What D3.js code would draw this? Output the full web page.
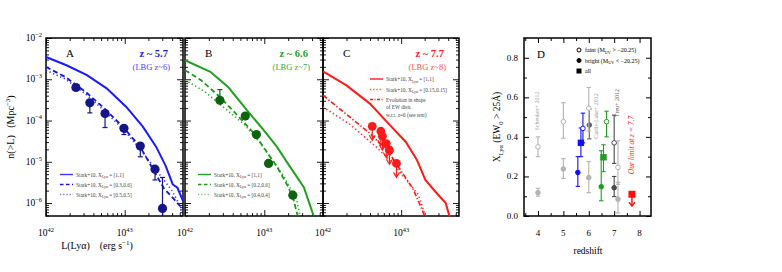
<!DOCTYPE html>
<html>
<head>
<meta charset="utf-8">
<script src="https://cdn.jsdelivr.net/npm/d3@7"></script>
<style>
body { margin: 0; background: #fff; }
text { font-family: "Liberation Serif", "DejaVu Serif", serif; white-space: pre; }
</style>
</head>
<body>
<script>
// Lya luminosity functions (panels A-C) and Lya fraction (panel D)
// curves are [log10 L, log10 n(>L)]

// panel A, z ~ 5.7
var aSolid = [[42.0,-2.46],[42.26,-2.66],[42.52,-2.90],[42.77,-3.22],[43.02,-3.67],[43.23,-4.15],[43.40,-4.64],[43.52,-5.1],[43.57,-5.35],[43.61,-5.55],[43.67,-5.63],[43.74,-5.95]];
var aDash = [[42.0,-2.70],[42.25,-2.95],[42.5,-3.3],[42.75,-3.72],[43.0,-4.2],[43.2,-4.65],[43.38,-5.25],[43.5,-5.65],[43.6,-5.85],[43.74,-6.15]];
var aDot = [[42.0,-2.78],[42.25,-3.0],[42.5,-3.35],[42.75,-3.78],[43.0,-4.25],[43.2,-4.7],[43.38,-5.15],[43.5,-5.45],[43.6,-5.7],[43.74,-6.2]];
var aLogL = [42.38, 42.557, 42.75, 42.99, 43.198, 43.385, 43.48];
var aLogN = [-3.2, -3.57, -3.83, -4.19, -4.62, -5.18, -6.13];
var aErrLo = [null, -3.815, -4.17, -4.34, -4.88, -5.44, -6.5];
var aErrHi = [null, null, null, null, null, null, -5.38];

// panel B, z ~ 6.6
var bSolid = [[42.0,-2.54],[42.32,-2.82],[42.55,-3.2],[42.78,-3.75],[43.0,-4.25],[43.16,-4.64],[43.3,-5.05],[43.5,-5.62],[43.62,-6.3]];
var bDash = [[42.0,-2.78],[42.2,-3.02],[42.44,-3.43],[42.65,-3.85],[42.87,-4.31],[43.16,-5.12],[43.3,-5.6],[43.37,-5.93],[43.42,-6.3]];
var bDot = [[42.0,-3.02],[42.25,-3.3],[42.53,-3.75],[42.75,-4.1],[42.95,-4.55],[43.25,-5.36],[43.41,-5.93],[43.45,-6.3]];
var bLogL = [42.44, 42.76, 42.90, 43.054, 43.36];
var bLogN = [-3.51, -3.89, -4.34, -5.04, -5.81];
var bErrHi = [-3.25, null, null, null, null];

// panel C, z ~ 7.7
var cSolid = [[42.0,-2.81],[42.3,-3.15],[42.6,-3.59],[42.85,-4.1],[43.06,-4.52],[43.2,-4.95],[43.31,-5.44],[43.45,-5.75],[43.57,-6.0],[43.62,-6.33]];
var cDot = [[42.0,-3.67],[42.35,-4.1],[42.68,-4.64],[42.9,-5.05],[43.1,-5.52],[43.22,-5.8],[43.30,-6.25],[43.32,-6.33]];
var cDashDot = [[42.0,-3.39],[42.3,-3.85],[42.6,-4.31],[42.85,-4.8],[43.02,-5.28],[43.15,-5.65],[43.27,-6.17],[43.3,-6.33]];
var cLogL = [42.63, 42.74, 42.76, 42.81, 42.85, 42.94];
var cLogN = [-4.14, -4.26, -4.38, -4.56, -4.72, -5.04];

// panel D: [z, X, lo, hi]
var schenkerOpen = [[4.0,0.35,0.30,0.40],[5.0,0.477,0.393,0.573]];
var schenkerFilled = [[4.0,0.118,0.10,0.14],[5.0,0.238,0.19,0.29]];
var curtisOpen = [[6.0,0.545,0.43,0.65]];
var curtisFilled = [[6.0,0.194,0.118,0.275]];
var curtisDark = [[6.02,0.46,0.39,0.54]];
var blueFilled = [[5.57,0.22,0.15,0.30]];
var blueAll = [[5.69,0.37,0.30,0.445]];
var blueOpen = [[5.77,0.443,0.37,0.52]];
var greenFilled = [[6.49,0.148,0.077,0.33]];
var greenAll = [[6.58,0.297,0.224,0.36]];
var greenOpen = [[6.7,0.477,0.40,0.53]];
var treuOpen = [[7.0,0.37,0.266,0.51]];
var treuFilled = [[7.0,0.143,0.098,0.20]];
var lightOpen = [[7.15,0.246,0.16,0.38]];
var lightFilled = [[7.15,0.085,0.015,0.17]];
var ourLimit = [[7.7,0.11,0.05]];

var svg = d3.select("body").append("svg").attr("width", 782).attr("height", 272);

var yTop = 38, yBot = 216;
var yLum = d3.scaleLog().domain([4.85e-7, 1e-2]).range([yBot, yTop]);

function sup(sel, base, exp, size) {
  sel.append("tspan").text(base);
  sel.append("tspan").attr("dy", -size * 0.45).attr("font-size", size * 0.68).text(exp);
}

function lumPanel(x0, x1, showY) {
  var x = d3.scaleLog().domain([1e42, 5.5e43]).range([x0, x1]);
  var g = svg.append("g");
  var majX = [1e42, 1e43], minX = x.ticks().filter(function(d){ return majX.indexOf(d) < 0; });
  var majY = [1e-6, 1e-5, 1e-4, 1e-3, 1e-2];
  var minY = yLum.ticks().filter(function(d){ return majY.indexOf(d) < 0; });
  function ax(fn, scale, vals, len, pos) {
    var a = g.append("g").attr("transform", pos)
      .call(fn(scale).tickValues(vals).tickSize(len).tickFormat(""));
    a.select(".domain").remove();
    a.selectAll("line").attr("stroke", "#000").attr("stroke-width", 0.9);
  }
  ax(d3.axisBottom, x, majX, -6, "translate(0," + yBot + ")");
  ax(d3.axisBottom, x, minX, -3, "translate(0," + yBot + ")");
  ax(d3.axisTop, x, majX, -6, "translate(0," + yTop + ")");
  ax(d3.axisTop, x, minX, -3, "translate(0," + yTop + ")");
  ax(d3.axisLeft, yLum, majY, -6, "translate(" + x0 + ",0)");
  ax(d3.axisLeft, yLum, minY, -3, "translate(" + x0 + ",0)");
  ax(d3.axisRight, yLum, majY, -6, "translate(" + x1 + ",0)");
  ax(d3.axisRight, yLum, minY, -3, "translate(" + x1 + ",0)");
  g.append("rect").attr("x", x0).attr("y", yTop).attr("width", x1 - x0).attr("height", yBot - yTop)
    .attr("fill", "none").attr("stroke", "#000").attr("stroke-width", 1.5);
  majX.forEach(function(d) {
    var t = g.append("text").attr("x", x(d)).attr("y", 236).attr("text-anchor", "middle")
      .attr("font-size", 9.5);
    sup(t, "10", Math.round(Math.log10(d)), 9.5);
  });
  if (showY) {
    majY.forEach(function(d) {
      var t = g.append("text").attr("x", x0 - 4).attr("y", yLum(d) + 3).attr("text-anchor", "end")
        .attr("font-size", 9.5);
      sup(t, "10", "\u2212" + Math.round(-Math.log10(d)), 9.5);
    });
  }
  return x;
}

function curve(x, pts, color, dash, w) {
  var line = d3.line().x(function(d){ return x(Math.pow(10, d[0])); })
    .y(function(d){ return yLum(Math.pow(10, d[1])); });
  svg.append("path").datum(pts).attr("d", line).attr("fill", "none")
    .attr("stroke", color).attr("stroke-width", w || 1.8)
    .attr("stroke-dasharray", dash);
}

function points(x, logL, logN, lo, hi, color) {
  logL.forEach(function(l, i) {
    var cx = x(Math.pow(10, l)), cy = yLum(Math.pow(10, logN[i]));
    [lo && lo[i], hi && hi[i]].forEach(function(e) {
      if (e == null) return;
      var ey = Math.min(yBot, yLum(Math.pow(10, e)));
      svg.append("line").attr("x1", cx).attr("x2", cx).attr("y1", cy).attr("y2", ey)
        .attr("stroke", color).attr("stroke-width", 1.2);
      if (ey < yBot) svg.append("line").attr("x1", cx - 2.5).attr("x2", cx + 2.5).attr("y1", ey).attr("y2", ey)
        .attr("stroke", color).attr("stroke-width", 1.2);
    });
    svg.append("circle").attr("cx", cx).attr("cy", cy).attr("r", 4.6).attr("fill", color);
  });
}

function legendRow(x, y, color, dash, label, w) {
  svg.append("line").attr("x1", x).attr("x2", x + 13).attr("y1", y).attr("y2", y)
    .attr("stroke", color).attr("stroke-width", w || 1.4).attr("stroke-dasharray", dash);
  var t = svg.append("text").attr("x", x + 16).attr("y", y + 2).attr("font-size", 5.3).attr("fill", "#444");
  t.append("tspan").text("Stark+10, X");
  t.append("tspan").attr("dy", 1.5).attr("font-size", 3.8).text("Ly\u03b1");
  t.append("tspan").attr("dy", -1.5).text(" = " + label);
}

function title(x0, x1, letter, z, lbg, c1, c2) {
  svg.append("text").attr("x", x0 + 20).attr("y", 57).attr("font-size", 11).text(letter);
  svg.append("text").attr("x", x1 - 15).attr("y", 57).attr("text-anchor", "end").attr("font-size", 10.5)
    .attr("font-weight", "bold").attr("fill", c1).text(z);
  svg.append("text").attr("x", x1 - 13).attr("y", 70).attr("text-anchor", "end").attr("font-size", 8.5)
    .attr("fill", c2).text(lbg);
}

var dashS = "5,3", dotS = "1.3,2.6", dashDotS = "5,2,1.3,2";

// panel A
var xA = lumPanel(46, 183, true);
curve(xA, aDot, "#3a3aff", dotS, 1.6);
curve(xA, aDash, "#1515e0", dashS, 1.8);
curve(xA, aSolid, "#1a1aff", null, 2);
points(xA, aLogL, aLogN, aErrLo, aErrHi, "#15158a");
title(46, 183, "A", "z ~ 5.7", "(LBG z~6)", "#1a1ae6", "#4747f0");
legendRow(60, 174.5, "#3a3aff", null, "[1,1]");
legendRow(60, 184.5, "#1515e0", "3.5,2.5", "[0.3,0.6]");
legendRow(60, 194.5, "#6a6aff", "1.2,2", "[0.5,0.5]");

// panel B
var xB = lumPanel(185, 323, false);
curve(xB, bDot, "#30b030", dotS, 1.6);
curve(xB, bDash, "#1a9a1a", dashS, 1.8);
curve(xB, bSolid, "#22a022", null, 2);
points(xB, bLogL, bLogN, null, bErrHi, "#0e640e");
title(185, 323, "B", "z ~ 6.6", "(LBG z~7)", "#22a022", "#3aa83a");
legendRow(198, 174.5, "#22a022", null, "[1,1]");
legendRow(198, 184.5, "#1a9a1a", "3.5,2.5", "[0.2,0.6]");
legendRow(198, 194.5, "#70c870", "1.2,2", "[0.4,0.4]");

// panel C
var xC = lumPanel(323, 459, false);
curve(xC, cDot, "#ff2a2a", dotS, 1.6);
curve(xC, cDashDot, "#ff1a1a", dashDotS, 1.6);
curve(xC, cSolid, "#ff1a1a", null, 2);
cLogL.forEach(function(l, i) {
  var cx = xC(Math.pow(10, l)), cy = yLum(Math.pow(10, cLogN[i]));
  svg.append("line").attr("x1", cx).attr("x2", cx).attr("y1", cy).attr("y2", cy + 13)
    .attr("stroke", "#ff1a1a").attr("stroke-width", 1.2);
  svg.append("path").attr("d", "M" + (cx - 3) + "," + (cy + 9) + "L" + cx + "," + (cy + 14) + "L" + (cx + 3) + "," + (cy + 9))
    .attr("fill", "none").attr("stroke", "#ff1a1a").attr("stroke-width", 1.2);
  svg.append("circle").attr("cx", cx).attr("cy", cy).attr("r", 4.4).attr("fill", "#ff1a1a");
});
title(323, 459, "C", "z ~ 7.7", "(LBG z~8)", "#ff1a1a", "#ff5050");
legendRow(370, 79, "#ff1a1a", null, "[1,1]");
legendRow(370, 89.5, "#ff4a4a", "1.2,2", "[0.15,0.15]");
svg.append("line").attr("x1", 370).attr("x2", 383).attr("y1", 99.5).attr("y2", 99.5)
  .attr("stroke", "#ff1a1a").attr("stroke-width", 1.4).attr("stroke-dasharray", "3,1.5,1,1.5");
["Evolution in shape", "of EW distr.", "w.r.t. z=6 (see text)"].forEach(function(s, i) {
  svg.append("text").attr("x", 386).attr("y", 101.5 + i * 7.7).attr("font-size", 5.3).attr("fill", "#444").text(s);
});

// axis titles for luminosity panels
var yl = svg.append("text").attr("transform", "translate(14,127) rotate(-90)").attr("text-anchor", "middle")
  .attr("font-size", 10);
yl.append("tspan").text("n(>L)   (Mpc");
yl.append("tspan").attr("dy", -4).attr("font-size", 7).text("\u22123");
yl.append("tspan").attr("dy", 4).text(")");
var xl = svg.append("text").attr("x", 97).attr("y", 249).attr("text-anchor", "middle").attr("font-size", 10);
xl.append("tspan").text("L(Ly\u03b1)    (erg s");
xl.append("tspan").attr("dy", -4).attr("font-size", 7).text("\u22121");
xl.append("tspan").attr("dy", 4).text(")");

// panel D
var xD = d3.scaleLinear().domain([3.45, 8.45]).range([524, 651]);
var yD = d3.scaleLinear().domain([0, 0.9]).range([yBot, yTop]);
var gD = svg.append("g");
function axD(fn, scale, vals, len, pos) {
  var a = gD.append("g").attr("transform", pos).call(fn(scale).tickValues(vals).tickSize(len).tickFormat(""));
  a.select(".domain").remove();
  a.selectAll("line").attr("stroke", "#000").attr("stroke-width", 1);
}
var dMajX = [4, 5, 6, 7, 8], dMinX = [3.5, 4.5, 5.5, 6.5, 7.5];
var dMajY = [0, 0.2, 0.4, 0.6, 0.8], dMinY = [0.1, 0.3, 0.5, 0.7];
axD(d3.axisBottom, xD, dMajX, -5, "translate(0," + yBot + ")");
axD(d3.axisBottom, xD, dMinX, -3, "translate(0," + yBot + ")");
axD(d3.axisTop, xD, dMajX, -5, "translate(0," + yTop + ")");
axD(d3.axisTop, xD, dMinX, -3, "translate(0," + yTop + ")");
axD(d3.axisLeft, yD, dMajY, -5, "translate(524,0)");
axD(d3.axisLeft, yD, dMinY, -3, "translate(524,0)");
axD(d3.axisRight, yD, dMajY, -5, "translate(651,0)");
axD(d3.axisRight, yD, dMinY, -3, "translate(651,0)");
gD.append("rect").attr("x", 524).attr("y", yTop).attr("width", 127).attr("height", yBot - yTop)
  .attr("fill", "none").attr("stroke", "#000").attr("stroke-width", 1.5);
dMajX.forEach(function(d) {
  gD.append("text").attr("x", xD(d)).attr("y", 236).attr("text-anchor", "middle").attr("font-size", 9).text(d);
});
dMajY.forEach(function(d) {
  gD.append("text").attr("x", 518).attr("y", yD(d) + 3).attr("text-anchor", "end").attr("font-size", 9).text(d.toFixed(1));
});
svg.append("text").attr("x", 588).attr("y", 254).attr("text-anchor", "middle").attr("font-size", 9.5).text("redshift");
var dl = svg.append("text").attr("transform", "translate(500,127) rotate(-90)").attr("text-anchor", "middle").attr("font-size", 9.5);
dl.append("tspan").text("X");
dl.append("tspan").attr("dy", 2.5).attr("font-size", 6.5).text("Ly\u03b1");
dl.append("tspan").attr("dy", -2.5).text(" (EW");
dl.append("tspan").attr("dy", 2.5).attr("font-size", 6.5).text("0");
dl.append("tspan").attr("dy", -2.5).text(" > 25\u00c5)");
svg.append("text").attr("x", 537).attr("y", 58).attr("font-size", 11).text("D");

function fracPts(arr, color, shape) {
  arr.forEach(function(d) {
    var cx = xD(d[0]), cy = yD(d[1]);
    [d[2], d[3]].forEach(function(e) {
      svg.append("line").attr("x1", cx).attr("x2", cx).attr("y1", cy).attr("y2", yD(e))
        .attr("stroke", color).attr("stroke-width", 1.1);
      svg.append("line").attr("x1", cx - 2.2).attr("x2", cx + 2.2).attr("y1", yD(e)).attr("y2", yD(e))
        .attr("stroke", color).attr("stroke-width", 1.1);
    });
    if (shape == "square") {
      svg.append("rect").attr("x", cx - 3.2).attr("y", cy - 3.2).attr("width", 6.4).attr("height", 6.4).attr("fill", color);
    } else {
      svg.append("circle").attr("cx", cx).attr("cy", cy).attr("r", 2.3)
        .attr("fill", shape == "open" ? "#fff" : color).attr("stroke", color).attr("stroke-width", 1);
    }
  });
}
var lg = "#b4b4b4", dg = "#4a4a4a", bl = "#1010ff", gr = "#20a020";
fracPts(schenkerOpen, lg, "open");
fracPts(schenkerFilled, lg, "filled");
fracPts(curtisDark, "#606060", "filled");
fracPts(curtisOpen, lg, "open");
fracPts(curtisFilled, lg, "filled");
fracPts(blueFilled, bl, "filled");
fracPts(blueAll, bl, "square");
fracPts(blueOpen, bl, "open");
fracPts(greenFilled, gr, "filled");
fracPts(greenAll, gr, "square");
fracPts(greenOpen, gr, "open");
fracPts(treuOpen, dg, "open");
fracPts(treuFilled, dg, "filled");
fracPts(lightOpen, lg, "open");
fracPts(lightFilled, lg, "filled");
ourLimit.forEach(function(d) {
  var cx = xD(d[0]), cy = yD(d[1]), ey = yD(d[2]);
  svg.append("rect").attr("x", cx - 3.5).attr("y", cy - 3.5).attr("width", 7).attr("height", 7).attr("fill", "#ff1010");
  svg.append("line").attr("x1", cx).attr("x2", cx).attr("y1", cy).attr("y2", ey).attr("stroke", "#ff1010").attr("stroke-width", 1.5);
  svg.append("path").attr("d", "M" + (cx - 3) + "," + (ey - 4) + "L" + cx + "," + ey + "L" + (cx + 3) + "," + (ey - 4))
    .attr("fill", "none").attr("stroke", "#ff1010").attr("stroke-width", 1.5);
});

// rotated source labels
function vlabel(x, y, s, color, size, italic) {
  svg.append("text").attr("transform", "translate(" + x + "," + y + ") rotate(-90)").attr("text-anchor", "middle")
    .attr("font-size", size).attr("fill", color).attr("font-style", italic ? "italic" : null).text(s);
}
vlabel(539, 111, "Schenker+ 2012", "#a8a8a8", 6);
vlabel(598, 116, "Curtis-Lake+ 2012", "#989898", 6);
vlabel(619, 103, "Treu+ 2012", "#606060", 6);
vlabel(634, 145, "Our limit at z = 7.7", "#ff1a1a", 7.5, true);

// legend of panel D
var legD = [["open", "faint (M", "UV", " > \u221220.25)"], ["filled", "bright (M", "UV", " < \u221220.25)"], ["square", "all", "", ""]];
legD.forEach(function(r, i) {
  var y = 50 + i * 10.5;
  if (r[0] == "square") svg.append("rect").attr("x", 576.5).attr("y", y - 2.5).attr("width", 5).attr("height", 5).attr("fill", "#000");
  else svg.append("circle").attr("cx", 579).attr("cy", y).attr("r", 2).attr("fill", r[0] == "open" ? "#fff" : "#000")
    .attr("stroke", "#000").attr("stroke-width", 1);
  var t = svg.append("text").attr("x", 585).attr("y", y + 2).attr("font-size", 6);
  t.append("tspan").text(r[1]);
  if (r[2]) {
    t.append("tspan").attr("dy", 1.5).attr("font-size", 4.2).text(r[2]);
    t.append("tspan").attr("dy", -1.5).text(r[3]);
  }
});
</script>
</body>
</html>
